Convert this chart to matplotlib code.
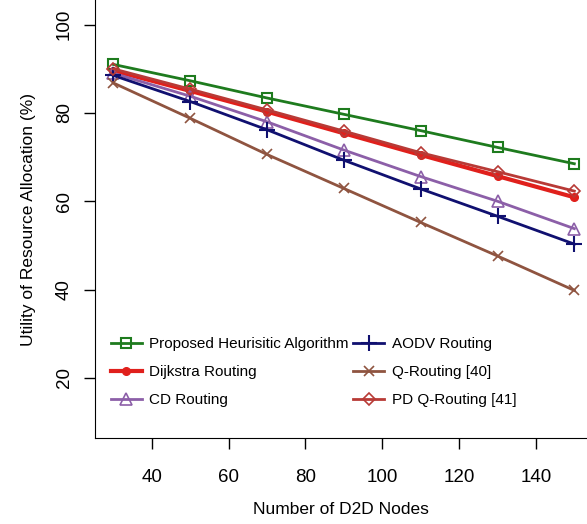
import numpy as np
import matplotlib
matplotlib.use('Agg')
import matplotlib.pyplot as plt

plt.rcParams['font.family'] = ['Liberation Sans', 'DejaVu Sans']

# data
nodes = [30, 50, 70, 90, 110, 130, 150]
proposed = [91.0, 87.3, 83.4, 79.7, 76.0, 72.2, 68.5]
dijkstra = [89.6, 85.0, 80.3, 75.4, 70.5, 65.7, 60.9]
cd = [89.0, 83.8, 78.0, 71.6, 65.6, 60.0, 53.8]
aodv = [88.5, 82.6, 76.2, 69.3, 62.8, 56.6, 50.3]
qrouting = [86.8, 78.8, 70.6, 62.9, 55.2, 47.6, 39.8]
pdq = [90.0, 85.4, 80.7, 75.9, 71.0, 66.7, 62.3]

fig = plt.figure(figsize=(5.87, 5.24), dpi=100)
ax = fig.add_axes([0.1618, 0.1636, 0.8382, 0.8364])

ax.plot(nodes, proposed, color='#1e7b1e', lw=2, marker='s', ms=6.5, mfc='none', mew=1.5,
        label='Proposed Heurisitic Algorithm')
ax.plot(nodes, dijkstra, color='#e0201c', lw=3, marker='o', ms=5.5, label='Dijkstra Routing')
ax.plot(nodes, cd, color='#8c5fa8', lw=2, marker='^', ms=8.5, mfc='none', mew=1.2, label='CD Routing')
ax.plot(nodes, aodv, color='#101070', lw=2, marker='+', ms=11, mew=1.5, label='AODV Routing')
ax.plot(nodes, qrouting, color='#8f5440', lw=2, marker='x', ms=7, mew=1.2, label='Q-Routing [40]')
ax.plot(nodes, pdq, color='#b83a36', lw=2, marker='D', ms=6.5, mfc='none', mew=1.2,
        label='PD Q-Routing [41]')

ax.set_xlim(25.2, 153.3)
ax.set_ylim(6.3, 105.6)
ax.set_xticks([40, 60, 80, 100, 120, 140])
ax.set_yticks([20, 40, 60, 80, 100])
ax.spines['top'].set_visible(False)
ax.spines['right'].set_visible(False)
ax.tick_params(direction='out', length=8, width=1, labelsize=13.5)
ax.tick_params(axis='x', pad=14)
ax.tick_params(axis='y', pad=8)
for lab in ax.get_yticklabels():
    lab.set_rotation(90)
    lab.set_va('center')

ax.set_xlabel('Number of D2D Nodes', fontsize=12.5, labelpad=12)
ax.set_ylabel('Utility of Resource Allocation (%)', fontsize=12.5, labelpad=14)

ax.legend(loc='lower left', bbox_to_anchor=(0.005, 0.04), ncol=2, frameon=False, fontsize=11,
          handlelength=2.0, columnspacing=0.3, labelspacing=0.9, handletextpad=0.5)

fig.savefig('out.png', dpi=100)
